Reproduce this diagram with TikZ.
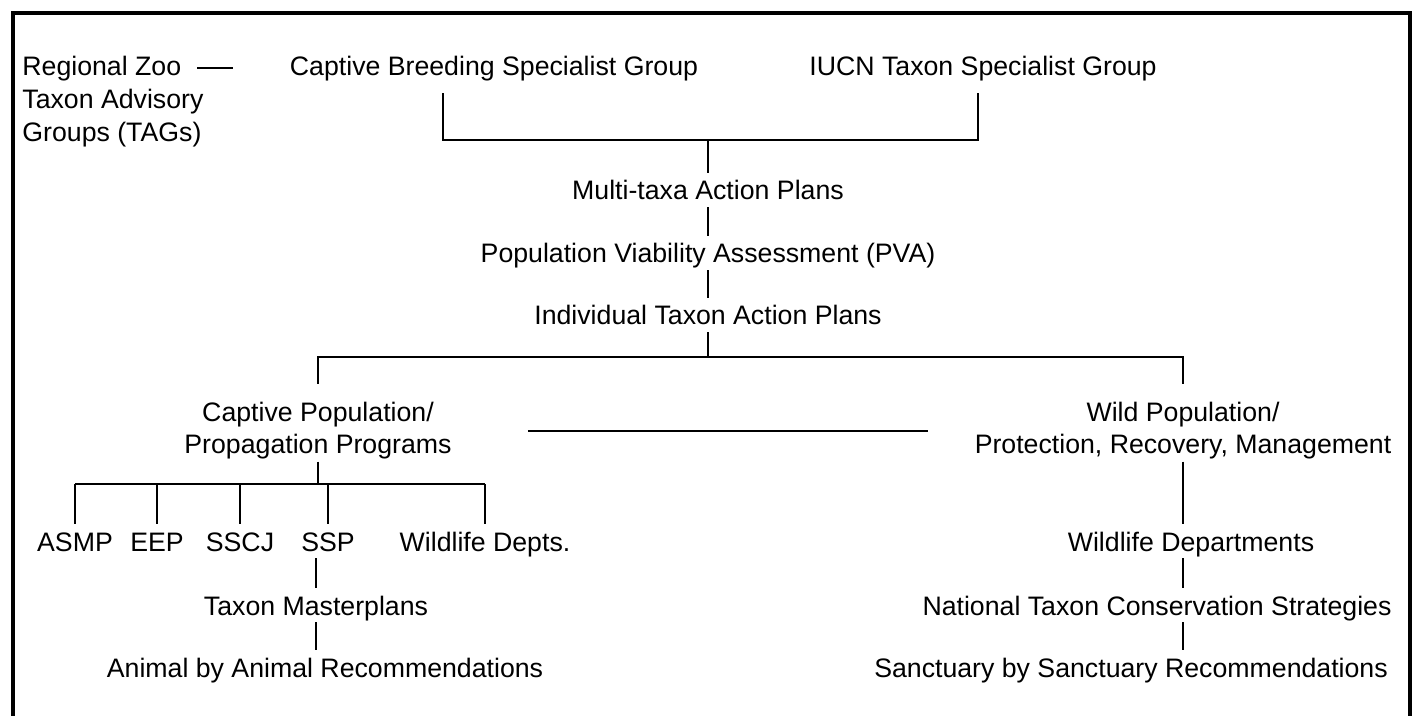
\documentclass[tikz,border=0pt]{standalone}
\usepackage{fontspec}
\setmainfont{Liberation Sans}
\usetikzlibrary{calc}

\begin{document}
\begin{tikzpicture}[x=0.5pt,y=-0.5pt]
\tikzstyle{lbl}=[font=\fontsize{13.35}{16}\selectfont, text height=0.72em, text depth=0.25em, inner sep=1pt, anchor=base]
\tikzstyle{lbltwo}=[font=\fontsize{13.35}{16}\selectfont, align=center, inner sep=1pt, anchor=north]
\tikzstyle{link}=[line width=1pt, shorten >=5pt]
\fill [white] (0,0) rectangle (1413,716);
\useasboundingbox (0,0) rectangle (1413,716);
% frame, open at the bottom
\draw [line width=2pt] (13,722) -- (13,13) -- (1410,13) -- (1410,722);
% top row
\node [lbltwo, anchor=north west, align=left, font=\fontsize{13.35}{16.5}\selectfont] (tags) at (20,54) {Regional Zoo\\Taxon Advisory\\Groups (TAGs)};
\coordinate (tagdash) at (197,68);
\draw [line width=1pt] (tagdash) -- +(36,0);
\node [lbl] (cbsg) at (494,76) {Captive Breeding Specialist Group};
\node [lbl] (iucn) at (983,76) {IUCN Taxon Specialist Group};
\coordinate (topbar) at (708,140);
\draw [line width=1pt] ($(cbsg.south)+(-51,10)$) |- (topbar) -| ($(iucn.south)+(-5,10)$);
% central chain
\node [lbl] (multi) at (708,200) {Multi-taxa Action Plans};
\node [lbl] (pva) at (708,263) {Population Viability Assessment (PVA)};
\node [lbl] (indiv) at (708,325) {Individual Taxon Action Plans};
\draw [link] (topbar) -- (multi);
\draw [link] (multi) -- (pva);
\draw [link] (pva) -- (indiv);
\coordinate (midbar) at (708,357);
\draw [line width=1pt] (indiv) -- (midbar);
% captive and wild branches
\node [lbltwo] (captive) at (318,400) {Captive Population/\\Propagation Programs};
\node [lbltwo] (wild) at (1183,400) {Wild Population/\\Protection, Recovery, Management};
\draw [line width=1pt] ([yshift=8pt]captive.north) |- (midbar) -| ([yshift=8pt]wild.north);
\draw [line width=1pt] ([xshift=37pt]captive.east) -- ([xshift=-22pt]wild.west);
% captive programmes
\node [lbl] (asmp) at (75,551) {ASMP};
\node [lbl] (eep) at (157,551) {EEP};
\node [lbl] (sscj) at (240,551) {SSCJ};
\node [lbl] (ssp) at (328,551) {SSP};
\node [lbl] (wdepts) at (485,551) {Wildlife Depts.};
\coordinate (cpbar) at (318,484);
\draw [line width=1pt] (captive) -- (cpbar);
\draw [line width=1pt] (asmp.north |- cpbar) -- (wdepts.north |- cpbar);
\draw [link] (asmp.north |- cpbar) -- (asmp);
\draw [link] (eep.north |- cpbar) -- (eep);
\draw [link] (sscj.north |- cpbar) -- (sscj);
\draw [link] (ssp.north |- cpbar) -- (ssp);
\draw [link] (wdepts.north |- cpbar) -- (wdepts);
\node [lbl] (tmp) at (316,615) {Taxon Masterplans};
\node [lbl] (animal) at (325,677) {Animal by Animal Recommendations};
\draw [link] (ssp.south -| tmp) -- (tmp);
\draw [link] (tmp) -- (tmp |- animal.north);
% wild side
\node [lbl] (wdept) at (1191,551) {Wildlife Departments};
\node [lbl] (ntcs) at (1157,615) {National Taxon Conservation Strategies};
\node [lbl] (sanct) at (1131,677) {Sanctuary by Sanctuary Recommendations};
\draw [link] (wild) -- (wild |- wdept.north);
\draw [link] (wdept.south -| wild) -- (wild |- ntcs.north);
\draw [link] (ntcs.south -| wild) -- (wild |- sanct.north);
\end{tikzpicture}
\end{document}
